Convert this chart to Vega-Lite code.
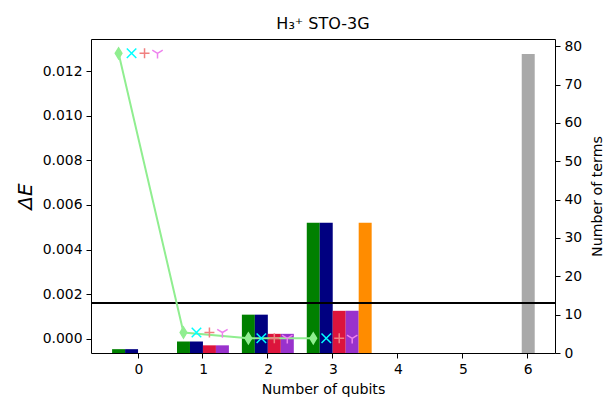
{
  "$schema": "https://vega.github.io/schema/vega-lite/v6.json",
  "width": 464,
  "height": 314,
  "autosize": {"type": "none"},
  "padding": {"left": 91, "top": 39, "right": 52, "bottom": 48},
  "title": {
    "text": "H₃⁺ STO-3G",
    "font": "DejaVu Sans",
    "fontSize": 16,
    "fontWeight": "normal",
    "color": "black",
    "baseline": "bottom",
    "offset": -9
  },
  "config": {
    "font": "DejaVu Sans",
    "view": {"stroke": "black", "strokeWidth": 1},
    "axis": {
      "domain": false,
      "grid": false,
      "tickColor": "black",
      "tickSize": 5,
      "tickWidth": 1,
      "labelColor": "black",
      "labelFont": "DejaVu Sans",
      "labelFontSize": 13.9,
      "labelPadding": 4,
      "titleColor": "black",
      "titleFont": "DejaVu Sans",
      "titleFontSize": 14.2,
      "titleFontWeight": "normal"
    }
  },
  "datasets": {
    "terms": [
      {"qubits": 0, "method": "A", "terms": 1},
      {"qubits": 0, "method": "B", "terms": 1},
      {"qubits": 1, "method": "A", "terms": 3},
      {"qubits": 1, "method": "B", "terms": 3},
      {"qubits": 1, "method": "C", "terms": 2},
      {"qubits": 1, "method": "D", "terms": 2},
      {"qubits": 2, "method": "A", "terms": 10},
      {"qubits": 2, "method": "B", "terms": 10},
      {"qubits": 2, "method": "C", "terms": 5},
      {"qubits": 2, "method": "D", "terms": 5},
      {"qubits": 3, "method": "A", "terms": 34},
      {"qubits": 3, "method": "B", "terms": 34},
      {"qubits": 3, "method": "C", "terms": 11},
      {"qubits": 3, "method": "D", "terms": 11},
      {"qubits": 3, "method": "E", "terms": 34},
      {"qubits": 6, "method": "full", "terms": 78}
    ],
    "energy": [
      {"qubits": 0, "method": "A", "dE": 0.0128},
      {"qubits": 0, "method": "B", "dE": 0.0128},
      {"qubits": 0, "method": "C", "dE": 0.0128},
      {"qubits": 0, "method": "D", "dE": 0.0128},
      {"qubits": 1, "method": "A", "dE": 0.00028},
      {"qubits": 1, "method": "B", "dE": 0.00028},
      {"qubits": 1, "method": "C", "dE": 0.00028},
      {"qubits": 1, "method": "D", "dE": 0.00028},
      {"qubits": 2, "method": "A", "dE": 0.00002},
      {"qubits": 2, "method": "B", "dE": 0.00002},
      {"qubits": 2, "method": "C", "dE": 0.00002},
      {"qubits": 2, "method": "D", "dE": 0.00002},
      {"qubits": 3, "method": "A", "dE": 0.00002},
      {"qubits": 3, "method": "B", "dE": 0.00002},
      {"qubits": 3, "method": "C", "dE": 0.00002},
      {"qubits": 3, "method": "D", "dE": 0.00002}
    ],
    "accuracy": [
      {"dE": 0.0016}
    ]
  },
  "layer": [
    {
      "data": {"name": "terms"},
      "layer": [
        {
          "transform": [{"filter": "datum.method !== 'full'"}],
          "mark": {"type": "bar"},
          "encoding": {
            "x": {
              "field": "qubits", "type": "ordinal",
              "scale": {"type": "band", "domain": [0, 1, 2, 3, 4, 5, 6], "paddingInner": 0.175, "paddingOuter": 0.1625, "align": 1},
              "axis": {"title": "Number of qubits", "labelAngle": 0, "bandPosition": 0.4848, "titlePadding": 7}
            },
            "xOffset": {
              "field": "method", "type": "nominal",
              "scale": {"domain": ["A", "B", "C", "D", "E"], "paddingInner": 0, "paddingOuter": 0, "align": 0, "range": [0, {"expr": "bandwidth('x') / 0.825"}]}
            },
            "y": {
              "field": "terms", "type": "quantitative",
              "scale": {"domain": [0, 81.9], "nice": false, "zero": true},
              "axis": {"orient": "right", "title": "Number of terms", "values": [0, 10, 20, 30, 40, 50, 60, 70, 80], "titleAngle": 270, "titleBaseline": "top", "titlePadding": 9}
            },
            "color": {
              "field": "method", "type": "nominal",
              "scale": {"domain": ["A", "B", "C", "D", "E", "full"], "range": ["#008000", "#000080", "#dc143c", "#9932cc", "#ff8c00", "#a9a9a9"]},
              "legend": null
            }
          }
        },
        {
          "transform": [{"filter": "datum.method === 'full'"}],
          "mark": {"type": "bar", "width": {"band": 0.2424}},
          "encoding": {
            "x": {
              "field": "qubits", "type": "ordinal",
              "scale": {"type": "band", "domain": [0, 1, 2, 3, 4, 5, 6], "paddingInner": 0.175, "paddingOuter": 0.1625, "align": 1},
              "axis": {"title": "Number of qubits", "labelAngle": 0, "bandPosition": 0.4848, "titlePadding": 7}
            },
            "y": {
              "field": "terms", "type": "quantitative",
              "scale": {"domain": [0, 81.9], "nice": false, "zero": true},
              "axis": {"orient": "right", "title": "Number of terms", "values": [0, 10, 20, 30, 40, 50, 60, 70, 80], "titleAngle": 270, "titleBaseline": "top", "titlePadding": 9}
            },
            "color": {
              "field": "method", "type": "nominal",
              "scale": {"domain": ["A", "B", "C", "D", "E", "full"], "range": ["#008000", "#000080", "#dc143c", "#9932cc", "#ff8c00", "#a9a9a9"]},
              "legend": null
            }
          }
        }
      ]
    },
    {
      "layer": [
        {
          "data": {"name": "accuracy"},
          "mark": {"type": "rule", "color": "black", "strokeWidth": 2},
          "encoding": {
            "y": {
              "field": "dE", "type": "quantitative",
              "scale": {"domain": [-0.00064, 0.01344], "nice": false, "zero": false},
              "axis": {"orient": "left", "title": "ΔE", "values": [0, 0.002, 0.004, 0.006, 0.008, 0.01, 0.012], "format": ".3f", "titleFontSize": 20, "titleFontStyle": "italic", "titlePadding": 7}
            }
          }
        },
        {
          "data": {"name": "energy"},
          "transform": [{"filter": "datum.method === 'A'"}],
          "mark": {"type": "line", "color": "#90ee90", "strokeWidth": 2},
          "encoding": {
            "x": {
              "field": "qubits", "type": "ordinal",
              "scale": {"type": "band", "domain": [0, 1, 2, 3, 4, 5, 6], "paddingInner": 0.175, "paddingOuter": 0.1625, "align": 1},
              "axis": {"title": "Number of qubits", "labelAngle": 0, "bandPosition": 0.4848, "titlePadding": 7}
            },
            "xOffset": {
              "field": "method", "type": "nominal",
              "scale": {"domain": ["A", "B", "C", "D", "E"], "paddingInner": 0, "paddingOuter": 0, "align": 0, "range": [0, {"expr": "bandwidth('x') / 0.825"}]}
            },
            "y": {
              "field": "dE", "type": "quantitative",
              "scale": {"domain": [-0.00064, 0.01344], "nice": false, "zero": false},
              "axis": {"orient": "left", "title": "ΔE", "values": [0, 0.002, 0.004, 0.006, 0.008, 0.01, 0.012], "format": ".3f", "titleFontSize": 20, "titleFontStyle": "italic", "titlePadding": 7}
            },
            "order": {"field": "qubits", "type": "quantitative"}
          }
        },
        {
          "data": {"name": "energy"},
          "mark": {"type": "point", "filled": true, "size": 90, "strokeWidth": 1.5, "opacity": 1},
          "encoding": {
            "x": {
              "field": "qubits", "type": "ordinal",
              "scale": {"type": "band", "domain": [0, 1, 2, 3, 4, 5, 6], "paddingInner": 0.175, "paddingOuter": 0.1625, "align": 1},
              "axis": {"title": "Number of qubits", "labelAngle": 0, "bandPosition": 0.4848, "titlePadding": 7}
            },
            "xOffset": {
              "field": "method", "type": "nominal",
              "scale": {"domain": ["A", "B", "C", "D", "E"], "paddingInner": 0, "paddingOuter": 0, "align": 0, "range": [0, {"expr": "bandwidth('x') / 0.825"}]}
            },
            "y": {
              "field": "dE", "type": "quantitative",
              "scale": {"domain": [-0.00064, 0.01344], "nice": false, "zero": false},
              "axis": {"orient": "left", "title": "ΔE", "values": [0, 0.002, 0.004, 0.006, 0.008, 0.01, 0.012], "format": ".3f", "titleFontSize": 20, "titleFontStyle": "italic", "titlePadding": 7}
            },
            "shape": {
              "field": "method", "type": "nominal",
              "scale": {"domain": ["A", "B", "C", "D"], "range": ["M0,-1.15L0.7,0L0,1.15L-0.7,0Z", "M-1,-1L1,1M-1,1L1,-1", "M-1.05,0L1.05,0M0,-1.05L0,1.05", "M0,0L0,1.1M0,0L-1.1,-0.65M0,0L1.1,-0.65"]},
              "legend": null
            },
            "color": {
              "field": "method", "type": "nominal",
              "scale": {"domain": ["A", "B", "C", "D"], "range": ["#90ee90", "#00ffff", "#f08080", "#ee82ee"]},
              "legend": null
            },
            "stroke": {
              "field": "method", "type": "nominal",
              "scale": {"domain": ["A", "B", "C", "D"], "range": ["#90ee90", "#00ffff", "#f08080", "#ee82ee"]},
              "legend": null
            }
          }
        }
      ]
    }
  ],
  "resolve": {"scale": {"y": "independent", "color": "independent"}}
}
